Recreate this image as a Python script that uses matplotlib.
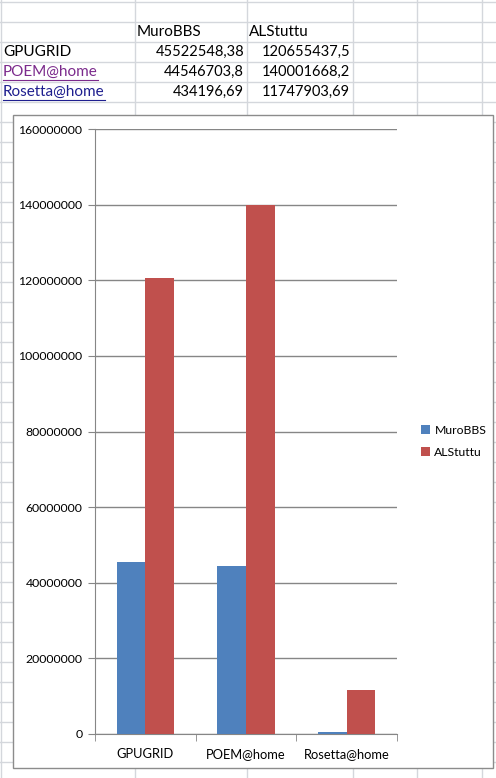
import numpy as np
import matplotlib.pyplot as plt
from matplotlib.patches import Rectangle, Patch
from matplotlib.ticker import FuncFormatter, FixedLocator

plt.rcParams['font.family'] = ['Lato', 'DejaVu Sans']

projects = ['GPUGRID', 'POEM@home', 'Rosetta@home']
series = ['MuroBBS', 'ALStuttu']
murobbs = [45522548.38, 44546703.8, 434196.69]
alstuttu = [120655437.5, 140001668.2, 11747903.69]
murobbs_txt = ['45522548,38', '44546703,8', '434196,69']
alstuttu_txt = ['120655437,5', '140001668,2', '11747903,69']
colors = ['#4f81bd', '#c0504d']

W, H = 496, 778
fig = plt.figure(figsize=(W / 100, H / 100), dpi=100)

# spreadsheet background, pixel coords
bg = fig.add_axes([0, 0, 1, 1])
bg.set_xlim(0, W)
bg.set_ylim(H, 0)
bg.axis('off')
grid_c = '#d4d7dc'
for y in range(2, H, 20):
    bg.plot([0, W], [y, y], color=grid_c, lw=1)
for x in [1, 135, 247, 353, 417, 482]:
    bg.plot([x, x], [0, H], color=grid_c, lw=1)

# cell text
fs = 11
bg.text(137, 32, series[0], fontsize=fs, va='center')
bg.text(249, 32, series[1], fontsize=fs, va='center')
link_cols = ['black', '#7b2a8c', '#1f1f8f']
links = []
for i, p in enumerate(projects):
    y = 52 + 20 * i
    t = bg.text(3, y, p, fontsize=fs, va='center', color=link_cols[i])
    if i > 0:
        links.append((t, y))
    bg.text(244, y, murobbs_txt[i], fontsize=fs - 0.5, va='center', ha='right')
    bg.text(350, y, alstuttu_txt[i], fontsize=fs - 0.5, va='center', ha='right')

fig.canvas.draw()
r = fig.canvas.get_renderer()
for t, y in links:
    bb = t.get_window_extent(r)
    bg.plot([3, 3 + bb.width], [y + 8, y + 8], color=t.get_color(), lw=0.8)

# chart area
bg.add_patch(Rectangle((13, 115), 480, 653, facecolor='white',
                       edgecolor='#8c8c8c', lw=1, zorder=5))

ax = fig.add_axes([95 / W, (H - 734) / H, (397 - 95) / W, (734 - 129) / H])
ax.set_zorder(10)
x = np.arange(len(projects))
bw = 0.286
ax.bar(x - bw / 2, murobbs, bw, color=colors[0], zorder=3)
ax.bar(x + bw / 2, alstuttu, bw, color=colors[1], zorder=3)

ax.set_xlim(-0.5, 2.5)
ax.set_ylim(0, 160000000)
ax.set_yticks(np.arange(0, 160000001, 20000000))
ax.yaxis.set_major_formatter(FuncFormatter(lambda v, pos: '%d' % v))
ax.grid(axis='y', color='#868686', lw=1, zorder=0)
ax.set_xticks(x)
ax.set_xticklabels(projects)
ax.xaxis.set_minor_locator(FixedLocator([-0.5, 0.5, 1.5, 2.5]))
ax.tick_params(axis='x', which='major', length=0, pad=10, labelsize=9.3)
ax.tick_params(axis='x', which='minor', length=5, color='#868686')
ax.tick_params(axis='y', length=5, color='#868686', labelsize=8.8, pad=4)
for s in ['top', 'right']:
    ax.spines[s].set_visible(False)
for s in ['left', 'bottom']:
    ax.spines[s].set_color('#868686')

handles = [Patch(facecolor=c) for c in colors]
fig.legend(handles, series, loc='center left', bbox_to_anchor=(410 / W, 1 - 441 / H),
           frameon=False, fontsize=8.8, handlelength=0.7, handleheight=0.7,
           handletextpad=0.4, labelspacing=0.9)

fig.savefig('out.png', dpi=100)
